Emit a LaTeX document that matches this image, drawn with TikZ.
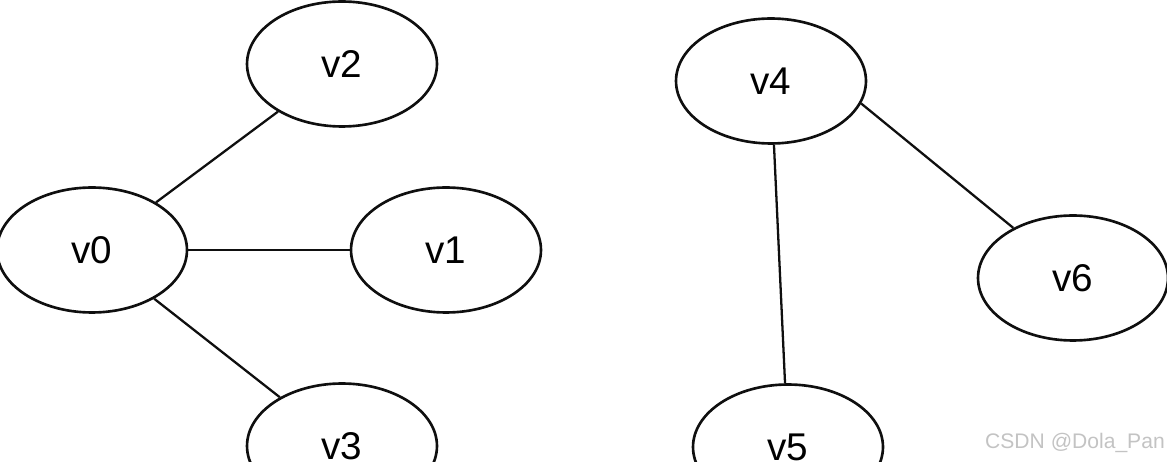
\documentclass[tikz,border=0pt]{standalone}
\usepackage{fontspec}
\setmainfont{Liberation Sans}
\usepackage{tikz}
\usetikzlibrary{shapes.geometric}
\definecolor{edgeC}{RGB}{15, 15, 15}
\definecolor{markC}{RGB}{195, 195, 195}

\tikzset{
  vertex/.style={ellipse, draw=edgeC, line width=1.5pt, minimum width=3.8cm, minimum height=2.5cm, inner sep=0pt, font=\fontsize{22}{26}\selectfont},
  link/.style={edgeC, line width=1.3pt}
}

\begin{document}
\begin{tikzpicture}[x=0.02cm, y=-0.02cm]
  \useasboundingbox (0,0) rectangle (1167,462);
  \clip (0,0) rectangle (1167,462);
  \node[vertex] (v0) at (92,250) {v0};
  \node[vertex] (v1) at (446,250) {v1};
  \node[vertex] (v2) at (342,64) {v2};
  \node[vertex] (v3) at (342,446) {v3};
  \node[vertex] (v4) at (771,81) {v4};
  \node[vertex] (v5) at (788,447) {v5};
  \node[vertex] (v6) at (1073,278) {v6};
  \draw[link] (v0) -- (v2);
  \draw[link] (v0) -- (v1);
  \draw[link] (v0) -- (v3);
  \draw[link] (v4) -- (v5);
  \draw[link] (v4.-14) -- (v6.140);
  \node[markC, font=\fontsize{12}{14}\selectfont] (mark) at (1075,443) {CSDN @Dola\_Pan};
\end{tikzpicture}
\end{document}
